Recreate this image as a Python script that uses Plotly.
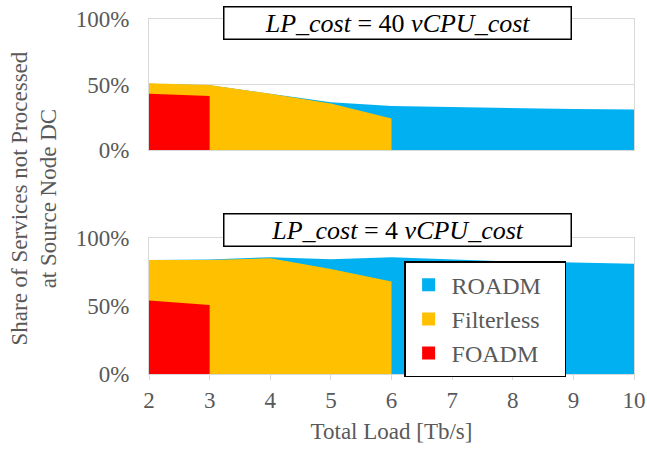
import plotly.graph_objects as go

load = [2, 3, 4, 5, 6, 7, 8, 9, 10]

# Top panel: LP_cost = 40 vCPU_cost
top_roadm_x = [2, 3, 4, 5, 6, 7, 8, 9, 10]
top_roadm = [0.505, 0.495, 0.43, 0.365, 0.336, 0.328, 0.318, 0.313, 0.31]
top_filt_x = [2, 3, 4, 5, 6]
top_filt = [0.509, 0.496, 0.43, 0.355, 0.24]
top_foadm_x = [2, 3]
top_foadm = [0.43, 0.412]

# Bottom panel: LP_cost = 4 vCPU_cost
bot_roadm_x = [2, 3, 4, 5, 6, 7, 8, 9, 10]
bot_roadm = [0.839, 0.842, 0.859, 0.844, 0.859, 0.841, 0.827, 0.82, 0.81]
bot_filt_x = [2, 3, 4, 5, 6]
bot_filt = [0.839, 0.839, 0.851, 0.773, 0.68]
bot_foadm_x = [2, 3]
bot_foadm = [0.541, 0.507]

series_names = ["ROADM", "Filterless", "FOADM"]
colors = ["#00B0F0", "#FFC000", "#FF0000"]
labels = ["<i>LP_cost</i> = 40 <i>vCPU_cost</i>", "<i>LP_cost</i> = 4 <i>vCPU_cost</i>"]
y_ticks = [0, 0.5, 1.0]

FONT = "Liberation Serif"
GRAY = "#595959"
GRID = "#D9D9D9"
PAD = "\u00a0\u00a0\u00a0"  # right padding inside the legend box

fig = go.Figure()
panels = [
    ("y", [(top_roadm_x, top_roadm), (top_filt_x, top_filt), (top_foadm_x, top_foadm)]),
    ("y2", [(bot_roadm_x, bot_roadm), (bot_filt_x, bot_filt), (bot_foadm_x, bot_foadm)]),
]
for yref, data in panels:
    xa = "x" if yref == "y" else "x2"
    for (xs, ys), name, col in zip(data, series_names, colors):
        fig.add_trace(go.Scatter(
            x=xs, y=ys, name=name, mode="lines", fill="tozeroy",
            fillcolor=col, line=dict(width=0, color=col),
            xaxis=xa, yaxis=yref, showlegend=False, hoverinfo="skip",
        ))

# legend-only entries with square swatches
for name, col in zip(series_names, colors):
    fig.add_trace(go.Scatter(
        x=[None], y=[None], name=name + PAD, mode="markers",
        marker=dict(symbol="square", size=13, color=col),
        xaxis="x2", yaxis="y2", showlegend=True,
    ))

axis_common = dict(range=[2, 10], showgrid=False, zeroline=False, automargin=False,
                   showline=True, linecolor=GRID, linewidth=1, mirror=True,
                   tickfont=dict(family=FONT, size=23, color=GRAY))
yaxis_common = dict(range=[0, 1], tickvals=y_ticks, tickformat=".0%", automargin=False,
                    showgrid=True, gridcolor=GRID, gridwidth=1, zeroline=False,
                    showline=True, linecolor=GRID, linewidth=1, mirror=True,
                    ticks="", ticklen=0, ticklabelstandoff=14,
                    tickfont=dict(family=FONT, size=23, color=GRAY))

fig.update_layout(
    width=647, height=450,
    margin=dict(l=149, r=13, t=19, b=76),
    paper_bgcolor="white", plot_bgcolor="white",
    xaxis=dict(axis_common, domain=[0, 1], anchor="y", showticklabels=False, ticks=""),
    yaxis=dict(yaxis_common, domain=[0.631, 1.0], anchor="x"),
    xaxis2=dict(axis_common, domain=[0, 1], anchor="y2", tickvals=load,
                ticks="outside", ticklen=5, tickcolor=GRID,
                title=dict(text="Total Load [Tb/s]", font=dict(family=FONT, size=23, color=GRAY), standoff=11)),
    yaxis2=dict(yaxis_common, domain=[0, 0.383], anchor="x2"),
    legend=dict(x=0.526, y=0.318, xanchor="left", yanchor="top",
                bgcolor="white", bordercolor="black", borderwidth=1.5,
                font=dict(family=FONT, size=24, color=GRAY),
                traceorder="normal", itemwidth=36),
    showlegend=True,
)

# Panel label boxes
for lab, ypos in zip(labels, [0.990, 0.4056]):
    fig.add_annotation(
        xref="paper", yref="paper", x=0.513, y=ypos,
        xanchor="center", yanchor="middle", text=lab, showarrow=False,
        font=dict(family=FONT, size=26, color="black"),
        bgcolor="white", bordercolor="black", borderwidth=1.5,
        width=344, height=29,
    )

# Y axis title
fig.add_annotation(
    xref="paper", yref="paper", x=-0.236, y=0.493, xanchor="center", yanchor="middle",
    text="Share of Services not Processed<br>at Source Node DC", textangle=-90,
    showarrow=False, font=dict(family=FONT, size=23, color=GRAY),
)

fig.write_html("out.html", config={"displayModeBar": False},
               post_script="document.body.style.margin='0px';")
